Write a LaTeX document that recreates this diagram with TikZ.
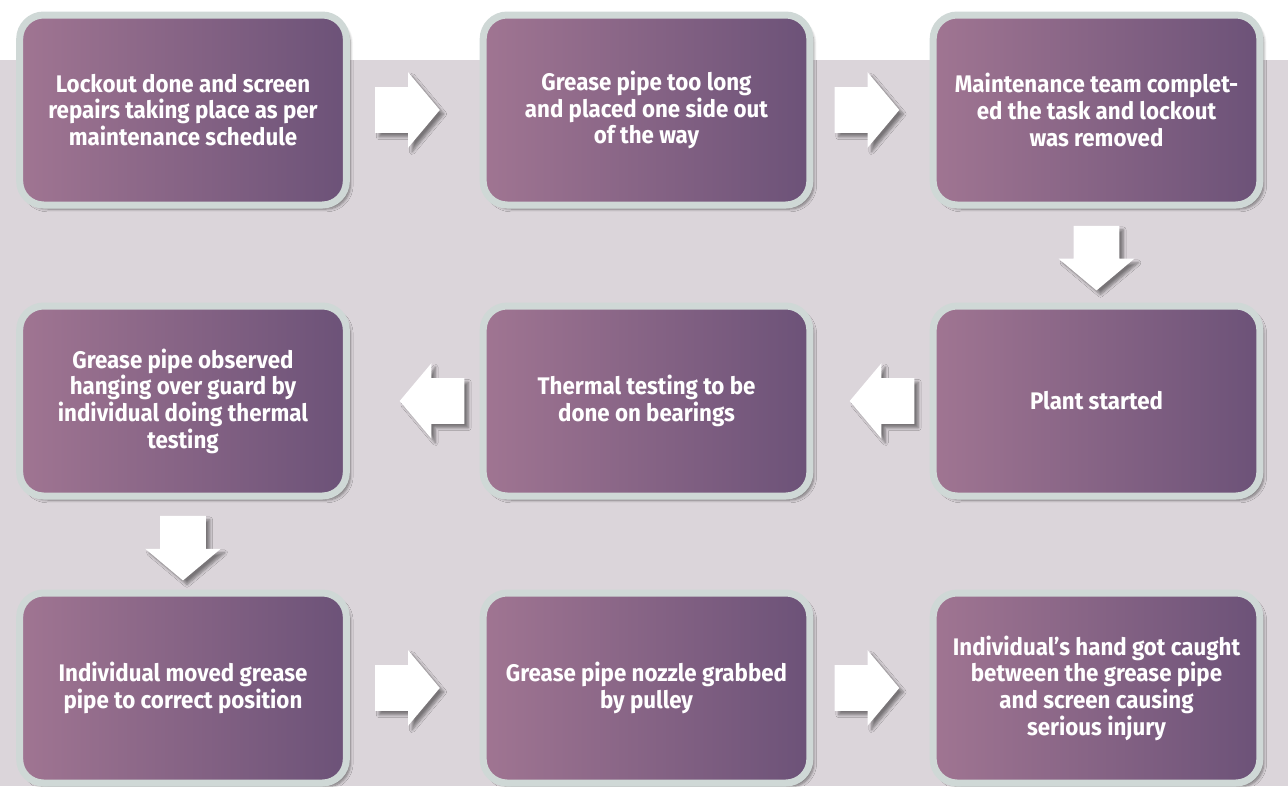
\documentclass[tikz,border=0pt]{standalone}
\usepackage{fontspec}
\setmainfont{Fira Sans}[FakeStretch=0.93]
\usepackage{xcolor}
\usetikzlibrary{calc,shapes.arrows,shadows.blur}
\definecolor{bgcol}{HTML}{DBD5DA}
\definecolor{rimcol}{HTML}{CFD8D6}
\definecolor{leftcol}{HTML}{A07592}
\definecolor{rightcol}{HTML}{6C5278}

\begin{document}
\begin{tikzpicture}[x=0.75pt,y=-0.75pt,
    stepbox/.style={draw=rimcol,line width=5.25pt,rounded corners=18pt,
        left color=leftcol,right color=rightcol,
        minimum width=245pt,minimum height=142.5pt,align=center,text=white,
        font=\bfseries\fontsize{18}{20}\selectfont,
        blur shadow={shadow xshift=3pt,shadow yshift=-3pt,shadow opacity=45,shadow blur steps=6}},
    flow/.style={single arrow,fill=white,draw=none,anchor=tail,
        inner xsep=0pt,inner ysep=16.875pt,minimum height=48.5pt,
        single arrow head extend=11.25pt,single arrow tip angle=100,
        blur shadow={shadow xshift=3pt,shadow yshift=-3pt,shadow opacity=45,shadow blur steps=6}},
    flowdown/.style={flow,shape border rotate=270,inner xsep=16.875pt,inner ysep=0pt},
    flowleft/.style={flow,shape border rotate=180}]
    \useasboundingbox (0,0) rectangle (1288,786);
    \fill[bgcol] (0,60) rectangle (1288,786);
    \node[stepbox] (1) at (183,110) {Lockout done and screen\\repairs taking place as per\\maintenance schedule};
    \node[stepbox] (2) at (646.5,110) {Grease pipe too long\\and placed one side out\\of the way};
    \node[stepbox] (3) at (1096.5,110) {Maintenance team complet-\\ed the task and lockout\\was removed};
    \node[stepbox] (4) at (1096.5,401) {Plant started};
    \node[stepbox] (5) at (646.5,401) {Thermal testing to be\\done on bearings};
    \node[stepbox] (6) at (183,401) {Grease pipe observed\\hanging over guard by\\individual doing thermal\\testing};
    \node[stepbox] (7) at (183,688) {Individual moved grease\\pipe to correct position};
    \node[stepbox] (8) at (646.5,688) {Grease pipe nozzle grabbed\\by pulley};
    \node[stepbox] (9) at (1096.5,688) {Individual’s hand got caught\\between the grease pipe\\and screen causing\\serious injury};
    \node[flow] (a12) at ($(1.east)+(25,0)$) {};
    \node[flow] (a23) at ($(2.east)+(21,0)$) {};
    \node[flowdown] (a34) at ($(3.south)+(0,17)$) {};
    \node[flowleft] (a45) at ($(4.west)+(-15,0)$) {};
    \node[flowleft] (a56) at ($(5.west)+(-15,0)$) {};
    \node[flowdown] (a67) at ($(6.south)+(0,16)$) {};
    \node[flow] (a78) at ($(7.east)+(25,0)$) {};
    \node[flow] (a89) at ($(8.east)+(21,0)$) {};
\end{tikzpicture}
\end{document}
